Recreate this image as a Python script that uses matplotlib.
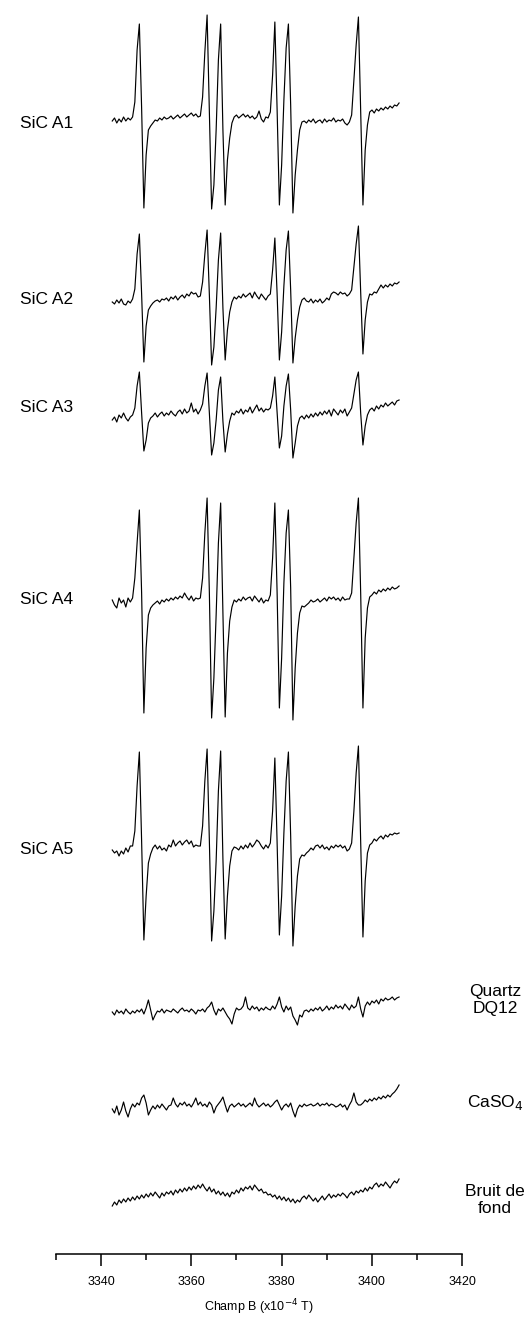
"""Spectres RPE : SiC A1-A5, quartz, CaSO4 et bruit de fond."""
import numpy as np
import matplotlib
matplotlib.use('Agg')
from matplotlib import pyplot as plt

plt.rcParams['font.family'] = ['Liberation Sans', 'DejaVu Sans']

# champ magnetique (x10^-4 T), un point tous les 0.5
champ = np.arange(3342.5, 3406.01, 0.5)

# intensites (unites arbitraires, ligne de base ~ 0)
sic_a1 = [-1, 2, -3, 1, -2, 3, -1, 2, 0, 3,
          18, 70, 96, 12, -88, -35, -10, -6, -3, 0,
          -1, 2, 0, 3, 1, 2, 4, 1, 3, 5,
          2, 4, 6, 3, 5, 7, 4, 6, 3, 4,
          23, 68, 105, 10, -89, -65, -10, 60, 96, -10,
          -85, -40, -18, -3, 3, 5, 2, 4, 6, 3,
          5, 2, 4, 1, 3, 9, 1, -2, 3, 2,
          8, 45, 98, 10, -85, -45, 20, 72, 96, 15,
          -93, -55, -30, -10, -2, -1, -3, 0, -2, 1,
          -3, -1, 0, -3, 1, -2, 0, -1, 2, -2,
          0, -1, 1, -3, -5, -2, 5, 40, 75, 103,
          10, -85, -30, -5, 8, 10, 7, 11, 9, 12,
          10, 13, 11, 14, 12, 15, 14, 17]
sic_a2 = [0, -2, 2, -1, 3, -2, -3, 1, -1, 3,
          13, 48, 68, 8, -60, -24, -8, -4, -1, 1,
          2, 0, 3, 2, 4, 1, 5, 3, 6, 2,
          5, 7, 4, 8, 6, 10, 8, 9, 5, 6,
          20, 48, 72, 7, -63, -45, -6, 42, 69, -6,
          -58, -28, -10, 0, 5, 3, 6, 4, 8, 5,
          7, 9, 4, 10, 6, 3, 8, 5, 2, 6,
          8, 32, 64, 8, -58, -30, 16, 52, 71, 12,
          -61, -36, -18, -5, 2, 4, 1, 0, 3, -1,
          2, 0, 3, -1, 1, 4, 2, 8, 10, 9,
          7, 10, 8, 9, 6, 8, 12, 35, 58, 76,
          10, -52, -18, 0, 8, 7, 10, 9, 13, 17,
          14, 17, 15, 18, 16, 19, 18, 20]
sic_a3 = [-2, 1, -4, 3, 0, 5, 0, -3, 1, 3,
          10, 32, 46, 5, -33, -22, -5, 0, 2, 5,
          1, 4, 6, 2, 5, 3, 7, 4, 2, 6,
          8, 4, 9, 5, 7, 15, 6, 9, 4, 8,
          14, 32, 45, 5, -37, -25, -2, 28, 41, -3,
          -34, -16, -3, 5, 3, 7, 5, 9, 4, 8,
          6, 11, 5, 9, 13, 7, 10, 6, 9, 8,
          10, 22, 41, 5, -30, -18, 12, 32, 44, 8,
          -40, -25, -8, 0, 2, -1, 3, 0, 4, 1,
          5, 2, 6, 3, 7, 4, 8, 2, 9, 6,
          3, 8, 5, 9, 2, 6, 10, 24, 38, 46,
          5, -27, -8, 3, 8, 10, 7, 12, 9, 13,
          11, 15, 12, 14, 16, 13, 17, 18]
sic_a4 = [3, -2, -5, 5, 0, 3, -4, 5, 1, 5,
          25, 60, 93, 10, -110, -45, -12, -5, -2, 0,
          2, -1, 3, 1, 4, 2, 5, 3, 6, 4,
          7, 5, 10, 6, 3, 7, 2, 5, 4, 5,
          25, 70, 105, 10, -115, -75, -12, 60, 100, -10,
          -114, -50, -18, -4, 3, 1, 4, 2, 6, 3,
          5, 6, 2, 7, 4, 1, 5, 0, 3, 2,
          8, 45, 100, 10, -105, -55, 20, 70, 93, 15,
          -117, -65, -30, -10, -3, -4, -2, 0, 3, 1,
          2, 4, 1, 3, 5, 2, 6, 4, 6, 3,
          5, 2, 6, 3, 4, 4, 10, 45, 80, 105,
          10, -105, -35, -5, 6, 8, 11, 9, 13, 11,
          14, 12, 15, 13, 16, 14, 15, 17]
sic_a5 = [1, -2, 0, -5, 0, -3, 3, -1, 5, 5,
          20, 65, 99, 10, -89, -45, -12, -3, 3, 6,
          2, 5, 1, 3, 0, 6, 4, 11, 5, 8,
          10, 6, 9, 11, 7, 10, 4, 6, 5, 5,
          25, 70, 102, 10, -90, -60, -10, 60, 100, -8,
          -88, -45, -15, 0, 4, 3, 1, 5, 2, 6,
          3, 8, 4, 7, 11, 9, 5, 2, 6, 3,
          8, 40, 93, 8, -84, -45, 18, 70, 99, 15,
          -95, -55, -25, -8, -4, -5, -2, 0, 3, 1,
          5, 6, 3, 6, 2, 4, 1, 5, 3, 6,
          4, 6, 3, 5, 0, 2, 8, 40, 78, 105,
          10, -86, -30, -2, 6, 8, 12, 10, 13, 15,
          12, 16, 14, 17, 16, 18, 17, 18]
quartz = [0, -3, 2, -1, 1, -2, 3, 0, -2, 1,
          -1, 2, 0, 3, -2, 4, 12, 2, -8, -3,
          1, 0, 3, -1, 2, 1, 0, 3, 1, -1,
          2, 4, 1, 2, 0, 3, 1, -2, 2, 1,
          3, 0, 4, 6, 10, 2, -3, 3, 1, 4,
          0, -4, -7, -12, -2, 4, 2, 3, 6, 15,
          4, 2, 6, 3, 5, 1, 4, 2, 5, 3,
          2, 6, 3, 8, 15, 5, 0, 6, 2, 5,
          -4, -8, -13, -3, -5, 1, 2, 0, 3, 1,
          4, 2, 5, 1, 3, 6, 2, 5, 3, 7,
          4, 6, 3, 8, 5, 2, 7, 4, 6, 15,
          3, -5, 6, 10, 7, 11, 9, 12, 8, 13,
          11, 14, 12, 13, 15, 12, 14, 15]
caso4 = [-2, -6, 1, -8, -3, 5, -4, -10, -2, 3,
         0, 4, 2, 9, 12, 4, -8, -3, 1, -2,
         2, -1, 3, 0, -3, 1, 2, 9, 3, 0,
         4, 2, 5, 1, 3, 0, 4, 9, 2, 5,
         1, 3, 0, 5, 2, -6, 0, 3, 6, 10,
         2, -5, 1, 3, 0, 2, 4, 1, 3, 0,
         2, 4, 1, 9, 3, 0, 2, 4, 1, 3,
         0, 2, 5, 7, 2, -3, 1, 3, 0, 4,
         -4, -10, -2, 2, 0, 3, 1, 2, 3, 1,
         2, 4, 1, 3, 2, 4, 1, 3, 2, 0,
         1, 3, 0, 2, -3, 2, 6, 14, 5, 2,
         2, 4, 7, 5, 8, 6, 9, 7, 10, 8,
         11, 9, 12, 10, 13, 15, 18, 22]
bruit = [-10, -6, -9, -4, -7, -3, -6, -2, -5, -1,
         -4, 0, -3, 1, -2, 2, -1, 3, 0, 4,
         1, -2, 3, 0, 4, 2, 5, 1, 6, 3,
         7, 4, 8, 5, 9, 6, 10, 7, 11, 8,
         12, 8, 5, 9, 4, 7, 2, 5, 1, 4,
         0, 3, -1, 4, 2, 6, 3, 8, 5, 9,
         7, 10, 6, 11, 8, 5, 7, 3, 4, 1,
         2, -1, 1, -3, 0, -4, -1, -5, -2, -6,
         -3, -7, -4, -6, -2, 0, -3, 1, -2, -5,
         -2, -6, -3, 0, -4, -1, 2, -2, 1, -1,
         2, 0, 3, 1, -2, 2, 4, 1, 5, 3,
         6, 4, 8, 5, 9, 7, 11, 13, 9, 12,
         10, 14, 11, 8, 12, 15, 13, 17]

spectres = [sic_a1, sic_a2, sic_a3, sic_a4, sic_a5, quartz, caso4, bruit]
noms = ['SiC A1', 'SiC A2', 'SiC A3', 'SiC A4', 'SiC A5',
        'Quartz\nDQ12', 'CaSO$_4$', 'Bruit de\nfond']

# mise en page (pixels de la figure 525 x 1317)
W, H = 525, 1317
axe_px = 1254
base_px = [120, 302, 418, 603, 851, 1012, 1107, 1196]
nom_y_px = [123, 300, 408, 600, 850, 1000, 1102, 1200]

fig = plt.figure(figsize=(W / 100, H / 100), dpi=100)
x0, x1 = 55.8, 462.3
ax = fig.add_axes([x0 / W, (H - axe_px) / H, (x1 - x0) / W, axe_px / H])
ax.set_xlim(3330, 3420)
ax.set_ylim(0, axe_px)

for spec, b in zip(spectres, base_px):
    ax.plot(champ, (axe_px - b) + np.array(spec), color='black', lw=0.85)

for i, (nom, y) in enumerate(zip(noms, nom_y_px)):
    if i < 5:
        fig.text(20 / W, 1 - y / H, nom, ha='left', va='center',
                 fontsize=12.5)
    else:
        fig.text(495 / W, 1 - y / H, nom, ha='center', va='center',
                 fontsize=12.5, multialignment='center', linespacing=1.1)

for s in ['left', 'right', 'top']:
    ax.spines[s].set_visible(False)
ax.spines['bottom'].set_linewidth(1.1)
ax.set_yticks([])
ax.set_xticks(np.arange(3340, 3421, 20))
ax.set_xticks(np.arange(3330, 3411, 20), minor=True)
ax.tick_params(axis='x', which='major', length=8.5, width=1.1, pad=7,
               labelsize=9)
ax.tick_params(axis='x', which='minor', length=4.3, width=1.1)
ax.set_xlabel('Champ B (x10$^{-4}$ T)', fontsize=9)
ax.xaxis.set_label_coords(0.5, (axe_px - 1297) / axe_px)

fig.savefig('out.png', dpi=100)
